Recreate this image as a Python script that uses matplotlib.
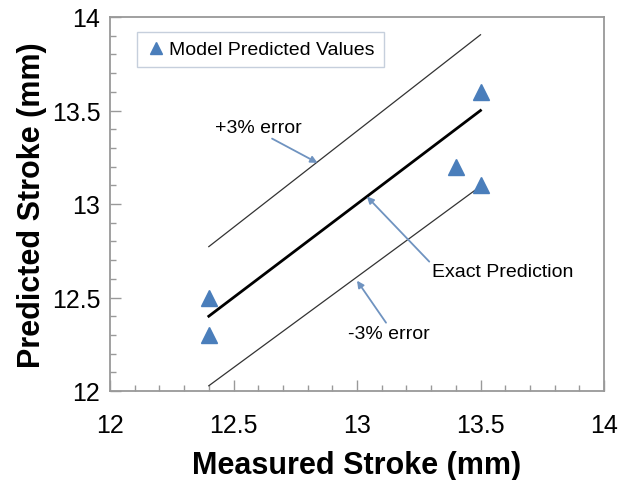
import matplotlib.pyplot as plt
from matplotlib.ticker import MultipleLocator, FuncFormatter

plt.rcParams['font.family'] = ['Liberation Sans', 'DejaVu Sans']

# measured vs predicted stroke (mm)
measured = [12.4, 12.4, 13.4, 13.5, 13.5]
predicted = [12.5, 12.3, 13.2, 13.6, 13.1]

# reference lines run over the measured range
line_x = [12.4, 13.5]
error_pct = 3

fig = plt.figure(figsize=(6.19, 4.81), dpi=100)
ax = fig.add_axes([110 / 619, 89 / 481, 494 / 619, 374 / 481])

exact = line_x
upper = [v * (1 + error_pct / 100) for v in line_x]
lower = [v * (1 - error_pct / 100) for v in line_x]

ax.plot(line_x, exact, color='black', lw=2.0)
ax.plot(line_x, upper, color='#333333', lw=0.9)
ax.plot(line_x, lower, color='#333333', lw=0.9)

ax.plot(measured, predicted, linestyle='none', marker='^', markersize=12,
        color='#4a7ebb', label='Model Predicted Values')

arrow = dict(arrowstyle='-|>', color='#6f93c0', lw=1.3,
             mutation_scale=10, shrinkA=0, shrinkB=0)
ax.annotate('+3% error', xy=(12.84, 13.22), xytext=(12.60, 13.41),
            fontsize=14, ha='center', va='center',
            arrowprops=dict(arrow, relpos=(0.6, 0.0)))
ax.annotate('Exact Prediction', xy=(13.04, 13.04), xytext=(13.59, 12.64),
            fontsize=14, ha='center', va='center',
            arrowprops=dict(arrow, relpos=(0.0, 0.9)))
ax.annotate('-3% error', xy=(13.00, 12.59), xytext=(13.13, 12.305),
            fontsize=14, ha='center', va='center',
            arrowprops=dict(arrow, relpos=(0.5, 0.9)))

ax.set_xlim(12, 14)
ax.set_ylim(12, 14)
for axis in (ax.xaxis, ax.yaxis):
    axis.set_major_locator(MultipleLocator(0.5))
    axis.set_minor_locator(MultipleLocator(0.1))
    axis.set_major_formatter(FuncFormatter(lambda v, _: f'{v:g}'))
ax.tick_params(which='major', direction='in', length=8, width=1, color='#999999',
               labelsize=18)
ax.tick_params(axis='x', which='major', pad=16)
ax.tick_params(axis='y', which='major', pad=7)
ax.tick_params(which='minor', direction='in', length=4, width=1, color='#999999')

for side in ax.spines.values():
    side.set_color('#999999')
    side.set_linewidth(1.3)

ax.set_xlabel('Measured Stroke (mm)', fontsize=22, fontweight='bold', labelpad=9)
ax.set_ylabel('Predicted Stroke (mm)', fontsize=22, fontweight='bold', labelpad=3)

leg = ax.legend(loc='upper left', bbox_to_anchor=(0.055, 0.96), fontsize=14,
                frameon=True, fancybox=False, handletextpad=0.2,
                borderpad=0.45, handlelength=1.0, markerscale=0.7,
                borderaxespad=0)
leg.get_frame().set_edgecolor('#b8c4d4')
leg.get_frame().set_linewidth(1.0)

fig.savefig('out.png', dpi=100)
